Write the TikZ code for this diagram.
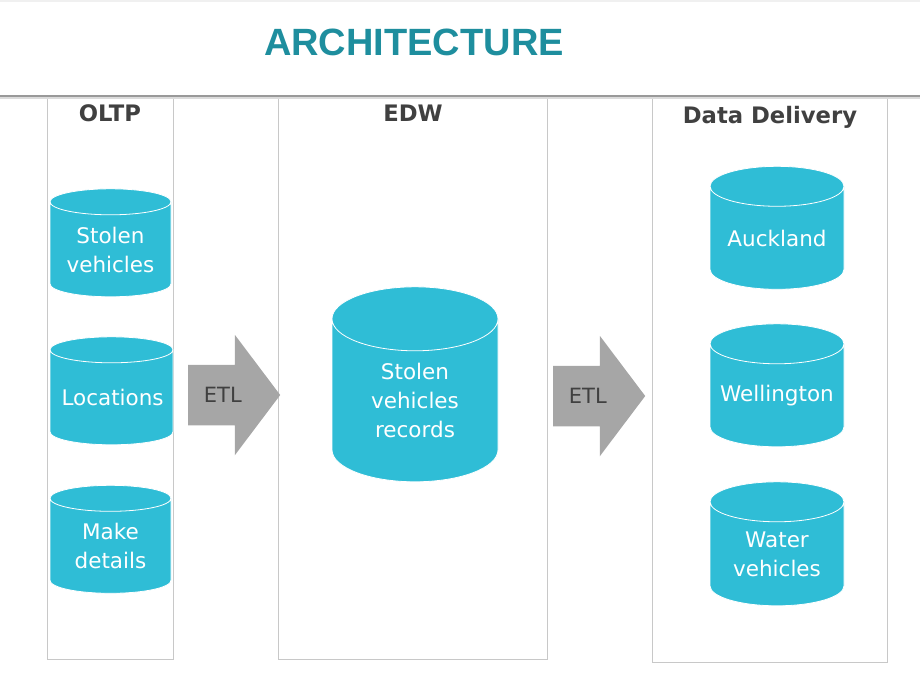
\documentclass[tikz,border=0pt]{standalone}
\usepackage{fontspec}
\setmainfont{DejaVu Sans}
\newfontfamily\titlefont{Liberation Sans}
\usetikzlibrary{shapes.geometric,shapes.arrows}
\definecolor{dbblue}{HTML}{2FBDD6}
\definecolor{titleteal}{HTML}{1E8E9E}
\definecolor{headgray}{HTML}{404040}
\definecolor{lanegray}{HTML}{C8C8C8}
\definecolor{etlgray}{HTML}{A6A6A6}
\tikzset{
    x=1pt, y=-1pt,
    db/.style={cylinder, shape border rotate=90, draw=white, line width=0.8pt,
        fill=dbblue, text=white, align=center, inner sep=0pt,
        font=\fontsize{21.5}{29}\selectfont},
    oltpdb/.style={db, text width=100pt, aspect=0.26, minimum width=121pt, minimum height=108pt},
    edwdb/.style={db, text width=140pt, aspect=0.457, minimum width=166pt, minimum height=195pt},
    outdb/.style={db, text width=120pt, aspect=0.333, minimum width=134pt, minimum height=123pt},
    lane/.style={draw=lanegray, line width=0.8pt},
    lanehead/.style={text=headgray, font=\fontsize{22.7}{27}\selectfont\bfseries},
    etl/.style={single arrow, fill=etlgray, text=headgray, anchor=tail,
        single arrow head extend=30pt, single arrow tip angle=106,
        inner xsep=4pt, inner ysep=22.4pt, minimum height=92pt,
        font=\fontsize{21}{25}\selectfont}
}
\begin{document}
\begin{tikzpicture}
    \useasboundingbox (0,0) rectangle (920,673);
    % lanes
    \draw[lane] (47,96) rectangle (173,659);
    \draw[lane] (278,96) rectangle (547,659);
    \draw[lane] (652,98) rectangle (887,662);
    % header band
    \fill[black!6] (0,0) rectangle (920,2);
    \fill[black!40] (0,94.5) rectangle (920,96.5);
    \fill[black!14] (0,96.5) rectangle (920,98.5);
    \node[text=titleteal, font=\titlefont\fontsize{38}{40}\selectfont\bfseries] (title) at (414,42) {ARCHITECTURE};

    \node[lanehead] (oltp) at (110,113) {OLTP};
    \node[lanehead] (edw) at (413,113) {EDW};
    \node[lanehead] (dd) at (770,117) {Data Delivery};

    \node[oltpdb] (sv) at (110.5,249.5) {Stolen\\vehicles};
    \node[oltpdb, minimum width=123pt] (loc) at (111.5,397.5) {Locations};
    \node[oltpdb] (mk) at (110.5,546) {Make\\details};

    \node[edwdb] (rec) at (415,400.5) {Stolen\\vehicles\\records};

    \node[outdb] (auk) at (777,238) {Auckland};
    \node[outdb] (wel) at (777,395.5) {Wellington};
    \node[outdb, minimum height=124pt] (wat) at (777,554) {Water\\vehicles};

    \node[etl] (etl1) at (188,395) {ETL};
    \node[etl] (etl2) at (553,396) {ETL};
\end{tikzpicture}
\end{document}
